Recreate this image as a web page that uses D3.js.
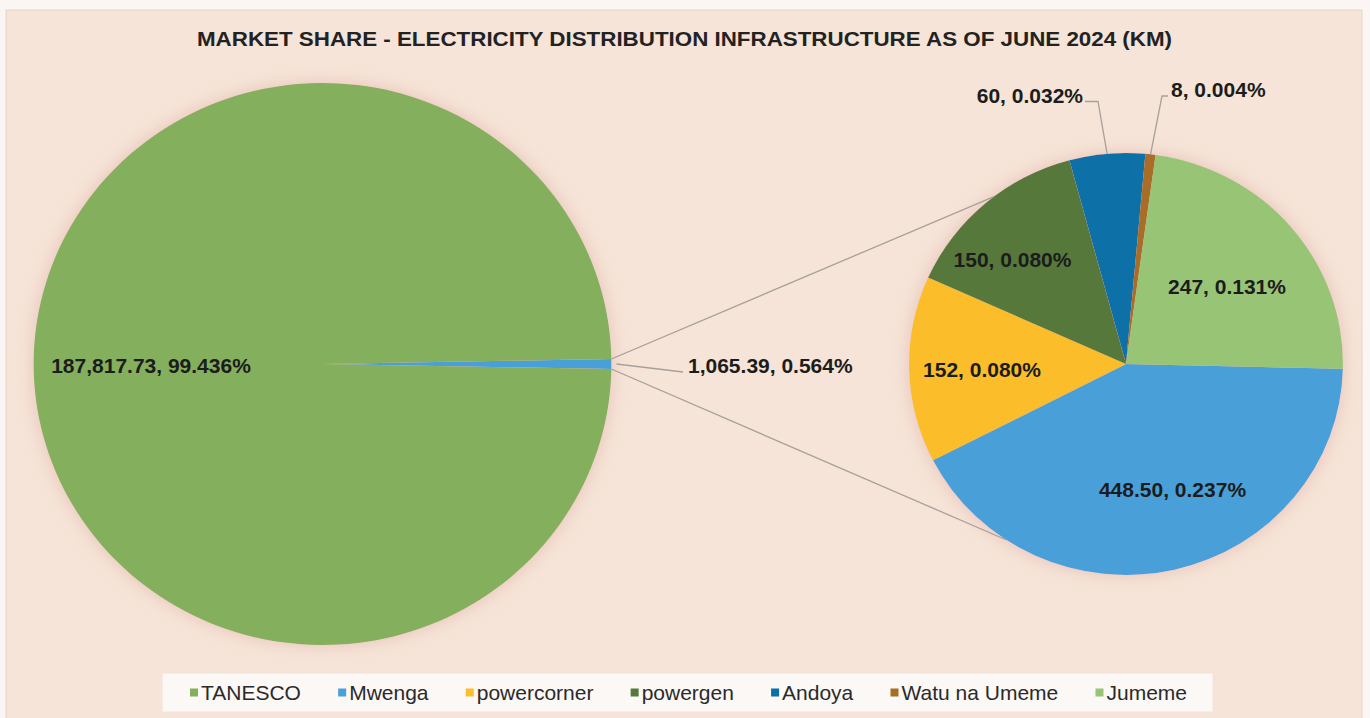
<!DOCTYPE html>
<html>
<head>
<meta charset="utf-8">
<script src="https://cdn.jsdelivr.net/npm/d3@7/dist/d3.min.js"></script>
<style>
  html, body { margin: 0; padding: 0; background: #ffffff; }
  svg { display: block; font-family: "Liberation Sans", Arial, sans-serif; }
</style>
</head>
<body>
<svg id="chart" width="1370" height="718"></svg>
<script>
// ---------------- DATA ----------------
const titleText = "MARKET SHARE - ELECTRICITY DISTRIBUTION INFRASTRUCTURE AS OF JUNE 2024 (KM)";
const legendCategories = ["TANESCO", "Mwenga", "powercorner", "powergen", "Andoya", "Watu na Umeme", "Jumeme"];
const legendColors = ["#84AF5B", "#4AA0D8", "#FBBD2A", "#56793A", "#0771A8", "#A86D25", "#98C476"];

const primaryNames  = ["Other", "TANESCO"];
const primaryValues = [1065.39, 187817.73];
const primaryValueLabels = ["1,065.39", "187,817.73"];
const primaryPctLabels   = ["0.564%", "99.436%"];

const secondaryNames  = ["Mwenga", "powercorner", "powergen", "Andoya", "Watu na Umeme", "Jumeme"];
const secondaryValues = [448.50, 152, 150, 60, 8, 247];
const secondaryValueLabels = ["448.50", "152", "150", "60", "8", "247"];
const secondaryPctLabels   = ["0.237%", "0.080%", "0.080%", "0.032%", "0.004%", "0.131%"];

// ---------------- LAYOUT ----------------
const W = 1370, H = 718;
const deg = Math.PI / 180;
const sx = 1.028;                       // slight horizontal stretch of the original picture
const main = { cx: 322.5, cy: 364, r: 281 };
const sec  = { cx: 1126,  cy: 364, r: 211 };
const secStart = 91.3 * deg;            // where the first secondary slice begins
const connectorAngles = [322.5 * deg, 213.6 * deg]; // where connector lines meet the secondary pie

const colorOf = d3.scaleOrdinal().domain(legendCategories).range(legendColors);
colorOf("Other");
const otherColor = colorOf("Mwenga");

const svg = d3.select("#chart");

// defs: soft pink glow around pies
const defs = svg.append("defs");
const f = defs.append("filter").attr("id", "glow")
  .attr("x", "-15%").attr("y", "-15%").attr("width", "130%").attr("height", "130%");
f.append("feMorphology").attr("operator", "dilate").attr("radius", 2).attr("in", "SourceAlpha").attr("result", "d");
f.append("feGaussianBlur").attr("in", "d").attr("stdDeviation", 7).attr("result", "b");
f.append("feFlood").attr("flood-color", "#E7B9B2").attr("flood-opacity", 0.65);
f.append("feComposite").attr("in2", "b").attr("operator", "in").attr("result", "s");
const fm = f.append("feMerge");
fm.append("feMergeNode").attr("in", "s");
fm.append("feMergeNode").attr("in", "SourceGraphic");

// chart area background
svg.append("rect").attr("x", 0).attr("y", 0).attr("width", W).attr("height", H).attr("fill", "#FBF6F3");
svg.append("rect").attr("x", 6).attr("y", 10).attr("width", 1356).attr("height", 712)
  .attr("fill", "#F5E4D7").attr("stroke", "#E4D6CC").attr("stroke-width", 1);

// title
svg.append("text")
  .attr("x", 684.5).attr("y", 46)
  .attr("text-anchor", "middle")
  .attr("font-size", 20).attr("font-weight", "bold").attr("fill", "#222")
  .attr("textLength", 975).attr("lengthAdjust", "spacingAndGlyphs")
  .text(titleText);

// helper: point on (stretched) pie
function pt(p, a, rr) {
  const r = rr === undefined ? p.r : rr;
  return [p.cx + sx * r * Math.sin(a), p.cy - r * Math.cos(a)];
}

// ---------------- PRIMARY PIE ----------------
const otherFrac = primaryValues[0] / d3.sum(primaryValues);
const mainStart = 90 * deg - otherFrac * Math.PI;
const mainPie = d3.pie().sort(null).value(d => d)
  .startAngle(mainStart).endAngle(mainStart + 2 * Math.PI);
const mainArcs = mainPie(primaryValues);
const arcMain = d3.arc().innerRadius(0).outerRadius(main.r);

const gMain = svg.append("g").attr("transform", `translate(${main.cx},${main.cy}) scale(${sx},1)`)
  .attr("filter", "url(#glow)");
gMain.selectAll("path").data(mainArcs).join("path")
  .attr("d", arcMain)
  .attr("fill", (d, i) => primaryNames[i] === "Other" ? otherColor : colorOf(primaryNames[i]));

// ---------------- SECONDARY PIE ----------------
const secPie = d3.pie().sort(null).value(d => d)
  .startAngle(secStart).endAngle(secStart + 2 * Math.PI);
const secArcs = secPie(secondaryValues);
const arcSec = d3.arc().innerRadius(0).outerRadius(sec.r);
const gSec = svg.append("g").attr("transform", `translate(${sec.cx},${sec.cy}) scale(${sx},1)`)
  .attr("filter", "url(#glow)");
gSec.selectAll("path").data(secArcs).join("path")
  .attr("d", arcSec)
  .attr("fill", (d, i) => colorOf(secondaryNames[i]));

// ---------------- CONNECTOR LINES ----------------
const lineColor = "#A8A09B";
const otherArc = mainArcs[0];
const conn = [
  [pt(main, otherArc.startAngle), pt(sec, connectorAngles[0])],
  [pt(main, otherArc.endAngle),   pt(sec, connectorAngles[1])]
];
svg.append("g").selectAll("line").data(conn).join("line")
  .attr("x1", d => d[0][0]).attr("y1", d => d[0][1])
  .attr("x2", d => d[1][0]).attr("y2", d => d[1][1])
  .attr("stroke", lineColor).attr("stroke-width", 1.3);

// ---------------- LABELS ----------------
const labelFont = 21;
const labels = svg.append("g").attr("font-size", labelFont).attr("font-weight", "bold").attr("fill", "#1c1c1c");

// primary labels: offsets from primary centre
const primaryLabelPos = [
  { dx: 365.5, dy: 2, anchor: "start" },     // Other (outside, with leader)
  { dx: -171.5, dy: 2, anchor: "middle" }    // TANESCO
];
primaryNames.forEach((n, i) => {
  const p = primaryLabelPos[i];
  labels.append("text")
    .attr("x", main.cx + p.dx).attr("y", main.cy + p.dy).attr("dy", "0.35em")
    .attr("text-anchor", p.anchor)
    .text(primaryValueLabels[i] + ", " + primaryPctLabels[i]);
});
// leader for the "Other" label
{
  const mid = (otherArc.startAngle + otherArc.endAngle) / 2;
  const a = pt(main, mid, main.r + 5);
  const lp = primaryLabelPos[0];
  svg.append("line")
    .attr("x1", a[0]).attr("y1", a[1])
    .attr("x2", main.cx + lp.dx - 5).attr("y2", main.cy + lp.dy + 6)
    .attr("stroke", lineColor).attr("stroke-width", 1.3);
}

// secondary labels: offsets from secondary centre
const secondaryLabelPos = [
  { dx: 46.5,   dy: 126,    anchor: "middle", leader: false },
  { dx: -144,   dy: 6,      anchor: "middle", leader: false },
  { dx: -113.5, dy: -104,   anchor: "middle", leader: false },
  { dx: -43,    dy: -268.5, anchor: "end",    leader: true },
  { dx: 45,     dy: -274,   anchor: "start",  leader: true },
  { dx: 101,    dy: -77,    anchor: "middle", leader: false }
];
secondaryNames.forEach((n, i) => {
  const p = secondaryLabelPos[i];
  const lx = sec.cx + p.dx, ly = sec.cy + p.dy;
  labels.append("text")
    .attr("x", lx).attr("y", ly).attr("dy", "0.35em")
    .attr("text-anchor", p.anchor)
    .text(secondaryValueLabels[i] + ", " + secondaryPctLabels[i]);
  if (p.leader) {
    const d = secArcs[i];
    const mid = (d.startAngle + d.endAngle) / 2;
    const e = pt(sec, mid);
    const elbowY = ly + 6;
    const gap = p.anchor === "end" ? 2 : -3;
    const elbowX = p.anchor === "end" ? lx + 15 : lx - 9;
    const textX = lx + gap;
    svg.append("path")
      .attr("d", `M${e[0]},${e[1]} L${elbowX},${elbowY} L${textX},${elbowY}`)
      .attr("fill", "none").attr("stroke", lineColor).attr("stroke-width", 1.3);
  }
});

// ---------------- LEGEND ----------------
const legBox = { x: 162, y: 673, w: 1051, h: 39 };
svg.append("rect").attr("x", legBox.x).attr("y", legBox.y).attr("width", legBox.w).attr("height", legBox.h)
  .attr("fill", "#FBF8F6").attr("stroke", "#EFE4DC").attr("stroke-width", 1);

const legFont = 21, mk = 8, mkGap = 3;
const legY = 693;
const legG = svg.append("g").attr("font-size", legFont).attr("fill", "#2a2a2a");
const items = legG.selectAll("g").data(legendCategories).join("g");
items.append("rect").attr("width", mk).attr("height", mk).attr("y", legY - mk / 2 - 0.5)
  .attr("fill", d => colorOf(d));
const txts = items.append("text").attr("x", mk + mkGap).attr("y", legY).attr("dy", "0.35em").text(d => d);
const widths = [];
txts.each(function () { widths.push(this.getComputedTextLength() + mk + mkGap); });
const legLeft = 190, legRight = 1187;
const spacing = (legRight - legLeft - d3.sum(widths)) / (widths.length - 1);
let cur = legLeft;
items.each(function (d, i) {
  d3.select(this).attr("transform", `translate(${cur},0)`);
  cur += widths[i] + spacing;
});
</script>
</body>
</html>
